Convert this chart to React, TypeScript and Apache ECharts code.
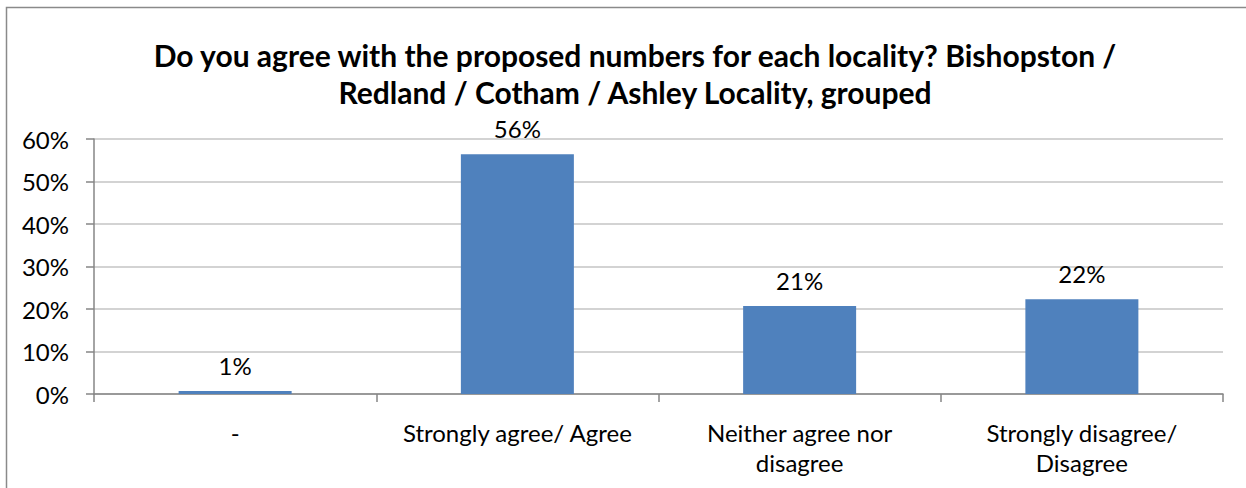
import React, { useEffect, useRef } from "react";
import * as echarts from "echarts";

const titleText =
  "Do you agree with the proposed numbers for each locality? Bishopston /\nRedland / Cotham / Ashley Locality, grouped";
const categories = [
  "-",
  "Strongly agree/ Agree",
  "Neither agree nor\ndisagree",
  "Strongly disagree/\nDisagree",
];
const values = [0.7, 56.4, 20.7, 22.3];
const yTicks = [0, 10, 20, 30, 40, 50, 60];

const FONT = "Lato, 'Open Sans', sans-serif";

export default function App() {
  const ref = useRef<HTMLDivElement>(null);
  useEffect(() => {
    if (!ref.current) return;
    const chart = echarts.init(ref.current, undefined, { renderer: "svg" });
    chart.setOption({
      animation: false,
      backgroundColor: "#ffffff",
      textStyle: { fontFamily: FONT },
      title: {
        text: titleText,
        left: 630,
        top: 31,
        textAlign: "center",
        textStyle: {
          fontFamily: FONT,
          fontSize: 30,
          fontWeight: "bold",
          color: "#000",
          lineHeight: 37,
        },
      },
      graphic: [
        {
          type: "rect",
          shape: { x: 6.5, y: 7.5, width: 1400, height: 700 },
          style: { fill: "none", stroke: "#8a8a8a", lineWidth: 1.5 },
          silent: true,
        },
      ],
      grid: { left: 94, right: 23, top: 139, bottom: 94 },
      xAxis: {
        type: "category",
        data: categories,
        boundaryGap: true,
        axisLine: { show: true, lineStyle: { color: "#868686", width: 1.5 } },
        axisTick: { show: true, length: 8, lineStyle: { color: "#868686", width: 1.5 } },
        axisLabel: {
          interval: 0,
          fontFamily: FONT,
          fontSize: 24,
          lineHeight: 30,
          color: "#000",
          margin: 23,
        },
      },
      yAxis: {
        type: "value",
        min: 0,
        max: yTicks[yTicks.length - 1],
        interval: 10,
        axisLine: { show: true, lineStyle: { color: "#868686", width: 1.5 } },
        axisTick: { show: true, length: 8, lineStyle: { color: "#868686", width: 1.5 } },
        splitLine: { show: true, lineStyle: { color: "#c4c4c4", width: 1.5 } },
        axisLabel: {
          fontFamily: FONT,
          fontSize: 24,
          color: "#000",
          margin: 25,
          formatter: (v: number) => v + "%",
        },
      },
      series: [
        {
          type: "bar",
          data: values,
          barWidth: 113,
          itemStyle: { color: "#4f81bd" },
          label: {
            show: true,
            position: "top",
            distance: 14,
            fontFamily: FONT,
            fontSize: 24,
            color: "#000",
            formatter: (p: any) => Math.round(p.value) + "%",
          },
        },
      ],
    });
    return () => chart.dispose();
  }, []);
  return (
    <div
      ref={ref}
      style={{ position: "fixed", left: 0, top: 0, width: 1246, height: 488 }}
    />
  );
}
